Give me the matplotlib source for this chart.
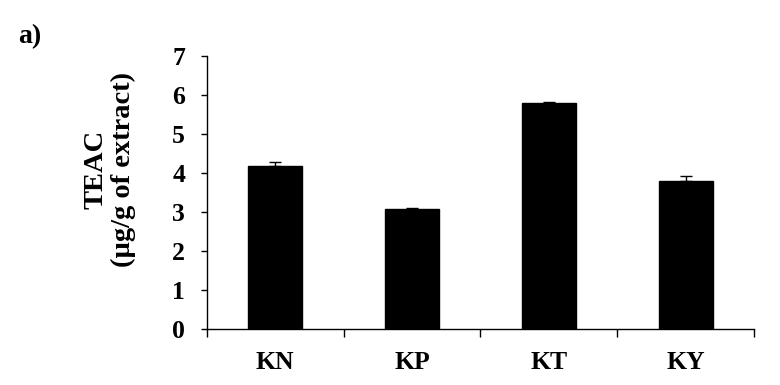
import numpy as np
import matplotlib
matplotlib.use("Agg")
import matplotlib.pyplot as plt

# data
samples = ["KN", "KP", "KT", "KY"]
teac = [4.19, 3.08, 5.80, 3.79]
teac_err = [0.09, 0.03, 0.03, 0.12]

plt.rcParams['font.family'] = ['Liberation Serif', 'DejaVu Serif']
plt.rcParams['font.weight'] = 'bold'

fig = plt.figure(figsize=(7.8, 3.85), dpi=100)
ax = fig.add_axes([0.265, 0.145, 0.702, 0.71])

ind = np.arange(len(samples))
ax.bar(ind, teac, width=0.39, color='black', edgecolor='black',
       yerr=[np.zeros(len(teac_err)), teac_err],
       error_kw=dict(ecolor='black', elinewidth=1.0, capsize=4.3, capthick=1.0))

ax.set_xlim(-0.5, len(samples) - 0.5)
ax.set_ylim(0, 7)
ax.set_yticks(np.arange(0, 8, 1))
ax.set_yticklabels([str(v) for v in range(8)], fontsize=18.5, fontweight='bold')

# category labels centred, tick marks between categories (spreadsheet style)
ax.set_xticks(np.arange(-0.5, len(samples), 1))
ax.set_xticklabels([])
ax.set_xticks(ind, minor=True)
ax.set_xticklabels(samples, minor=True, fontsize=18.5, fontweight='bold')
ax.tick_params(axis='x', which='minor', length=0, pad=16)
ax.tick_params(axis='x', which='major', direction='out', length=5.5, width=1)
ax.tick_params(axis='y', direction='out', length=4.5, width=1, pad=11)

for s in ['top', 'right']:
    ax.spines[s].set_visible(False)
for s in ['left', 'bottom']:
    ax.spines[s].set_linewidth(1)

fig.text(0.141, 0.561, "TEAC\n(\u00b5g/g of extract)", rotation=90, ha='center',
         va='center', fontsize=20.5, fontweight='bold', linespacing=1.1)
fig.text(0.023, 0.906, "a)", fontsize=20, fontweight='bold', ha='left', va='center')

plt.savefig('out.png', dpi=100)
